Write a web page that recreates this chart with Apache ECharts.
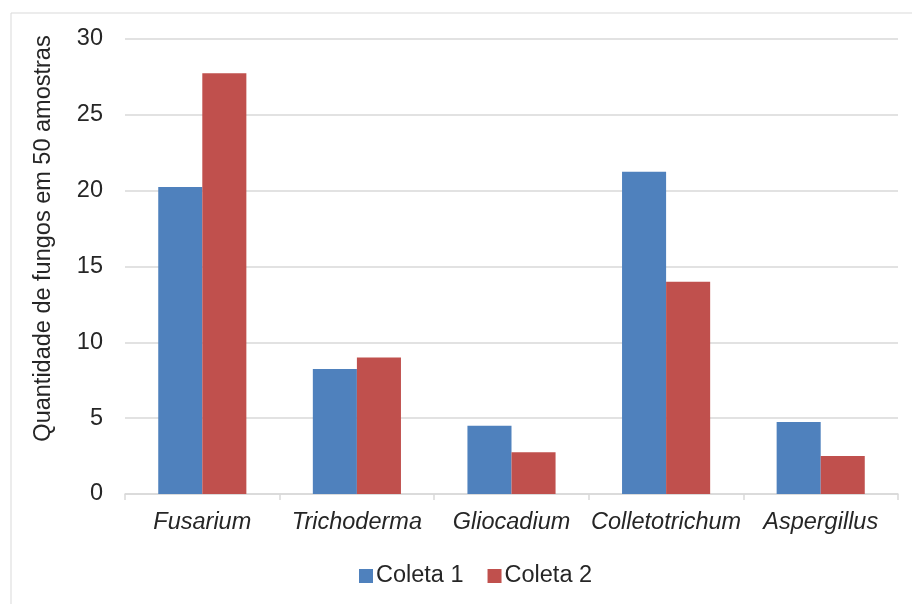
<!DOCTYPE html>
<html><head><meta charset="utf-8">
<script src="https://cdn.jsdelivr.net/npm/echarts@6/dist/echarts.min.js"></script>
<style>html,body{margin:0;padding:0;background:#fff}#c{width:912px;height:604px}</style>
</head><body><div id="c"></div>
<script>
const categories = ['Fusarium', 'Trichoderma', 'Gliocadium', 'Colletotrichum', 'Aspergillus'];
const coleta1 = [20.25, 8.25, 4.5, 21.25, 4.75];
const coleta2 = [27.75, 9, 2.75, 14, 2.5];
const seriesNames = ['Coleta 1', 'Coleta 2'];
const yTicks = { min: 0, max: 30, interval: 5 };
const yName = 'Quantidade de fungos em 50 amostras';

const font = 'Liberation Sans, Arial, sans-serif';
const fs = 23.5;
const chart = echarts.init(document.getElementById('c'), null, { renderer: 'canvas' });
chart.setOption({
  animation: false,
  backgroundColor: '#fff',
  graphic: [{
    type: 'rect', left: 8.5, top: 10.5,
    shape: { width: 1000, height: 700 },
    style: { fill: 'none', stroke: '#d9d9d9', lineWidth: 1 }
  }],
  grid: { left: 125, right: 14, top: 39, bottom: 110 },
  legend: {
    bottom: 11, left: 354, itemWidth: 14, itemHeight: 14, itemGap: 24,
    icon: 'rect',
    textStyle: { fontFamily: font, fontSize: fs, color: '#262626', padding: [0, 0, 0, -2] },
    data: seriesNames
  },
  xAxis: {
    type: 'category', data: categories,
    axisLine: { lineStyle: { color: '#d9d9d9', width: 1.5 } },
    axisTick: { show: true, interval: 0, length: 6, lineStyle: { color: '#d9d9d9', width: 1.5 } },
    axisLabel: { interval: 0, fontFamily: font, fontSize: fs, fontStyle: 'italic', color: '#262626', margin: 17 }
  },
  yAxis: {
    type: 'value', min: yTicks.min, max: yTicks.max, interval: yTicks.interval,
    name: yName, nameLocation: 'middle', nameGap: 69, nameRotate: 90,
    nameTextStyle: { fontFamily: font, fontSize: fs, color: '#262626', padding: [0, 0, 0, 56] },
    axisLine: { show: false }, axisTick: { show: false },
    axisLabel: { fontFamily: font, fontSize: fs, color: '#262626', margin: 22 },
    splitLine: { lineStyle: { color: '#d9d9d9', width: 1.5 } }
  },
  series: [
    { name: seriesNames[0], type: 'bar', data: coleta1, barGap: '0%', barCategoryGap: '43%',
      itemStyle: { color: '#4f81bd' } },
    { name: seriesNames[1], type: 'bar', data: coleta2, barGap: '0%', barCategoryGap: '43%',
      itemStyle: { color: '#c0504d' } }
  ]
});
</script></body></html>
